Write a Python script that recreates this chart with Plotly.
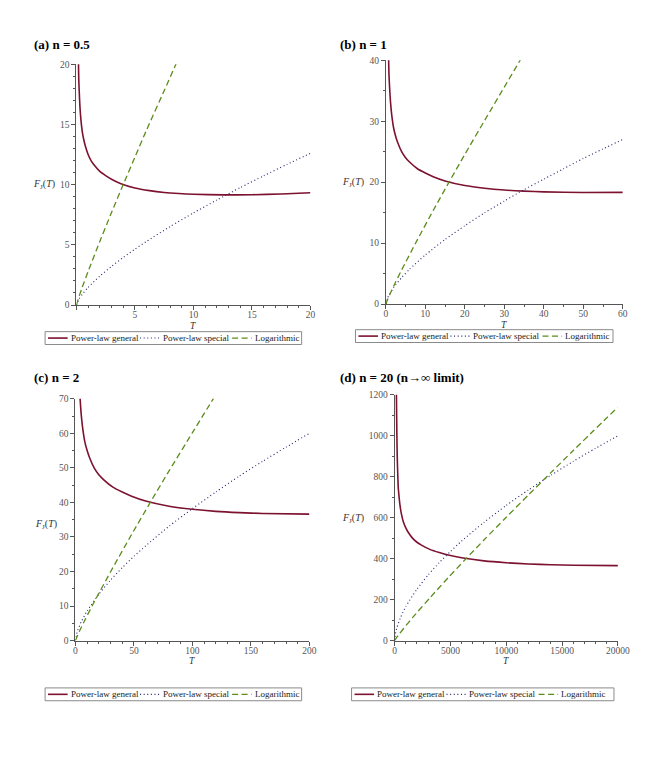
import plotly.graph_objects as go

W, H = 672, 762

# ---------------- data ----------------
# (a) n = 0.5
Ta_gen = [0.1, 0.125, 0.15, 0.175, 0.2, 0.25, 0.3, 0.375, 0.5, 0.625, 0.75, 1, 1.25, 1.5, 2, 2.5, 3, 3.75, 5, 6.25, 7.5, 8.75, 10, 12.5, 15, 17.5, 20]
Fa_gen = [30, 25, 22, 20.25, 18.75, 17.5, 16.5, 15.5, 14.4, 13.75, 13.25, 12.5, 12.0, 11.65, 11.1, 10.75, 10.45, 10.1, 9.72, 9.5, 9.35, 9.26, 9.2, 9.15, 9.16, 9.22, 9.33]
Ta_spec = [0, 0.25, 0.5, 1, 2, 3, 4, 5, 6, 8, 10, 12, 14, 16, 18, 20]
Fa_spec = [0, 0.54, 0.88, 1.46, 2.40, 3.21, 3.95, 4.64, 5.29, 6.51, 7.65, 8.72, 9.75, 10.73, 11.68, 12.6]
Ta_log = [0, 0.125, 0.25, 0.5, 1, 2, 3, 4, 5, 6, 7.5, 8.5, 9]
Fa_log = [0, 0.41, 0.78, 1.48, 2.79, 5.28, 7.68, 10.0, 12.28, 14.55, 17.8, 20.0, 21.1]

# (b) n = 1
Tb_gen = [0.4, 0.5, 0.6, 0.7, 0.8, 1, 1.2, 1.5, 2, 2.5, 3, 4, 5, 6, 8, 10, 12, 15, 20, 25, 30, 35, 40, 50, 60]
Fb_gen = [60, 50, 44, 40.5, 37.5, 35, 33, 31, 28.8, 27.5, 26.5, 25, 24, 23.3, 22.2, 21.5, 20.9, 20.2, 19.45, 19.0, 18.7, 18.52, 18.4, 18.3, 18.32]
Tb_spec = [0, 0.5, 1, 2, 4, 6, 10, 15, 20, 25, 30, 35, 40, 45, 50, 55, 60]
Fb_spec = [0, 1.07, 1.70, 2.72, 4.34, 5.71, 8.06, 10.59, 12.85, 14.96, 16.9, 18.77, 20.5, 22.2, 23.9, 25.46, 27]
Tb_log = [0, 0.5, 1, 2, 4, 8, 12, 16, 20, 25, 30, 34, 36]
Fb_log = [0, 0.82, 1.56, 2.95, 5.58, 10.56, 15.35, 20.0, 24.55, 30.1, 35.6, 40.0, 42.2]

# (c) n = 2
Tc_gen = [1.6, 2, 2.4, 2.8, 3.2, 4, 4.8, 6, 8, 10, 12, 16, 20, 24, 32, 40, 48, 60, 80, 100, 120, 140, 160, 200]
Fc_gen = [120, 100, 88, 81, 75, 70, 66, 62, 57.6, 55, 53, 50, 48, 46.6, 44.4, 43, 41.8, 40.4, 38.9, 38.0, 37.4, 37.04, 36.8, 36.6]
Tc_spec = [0, 1, 2, 5, 10, 20, 30, 40, 50, 60, 80, 100, 120, 140, 160, 180, 200]
Fc_spec = [0, 1.92, 3.01, 5.45, 8.56, 13.4, 17.5, 21.1, 24.4, 27.4, 33.1, 38.2, 43.0, 47.6, 51.9, 56.0, 60]
Tc_log = [0, 2, 4, 8, 16, 32, 48, 64, 80, 100, 120]
Fc_log = [0, 1.65, 3.12, 5.9, 11.16, 21.1, 30.7, 40.0, 49.1, 60.2, 71.2]

# (d) n = 20
Td_gen = [100, 120, 160, 200, 240, 280, 320, 400, 480, 600, 800, 1000, 1200, 1600, 2000, 2400, 3200, 4000, 4800, 6000, 8000, 10000, 12000, 14000, 16000, 20000]
Fd_gen = [1900, 1500, 1200, 1000, 880, 810, 750, 700, 660, 620, 576, 550, 530, 500, 480, 466, 444, 430, 418, 404, 389, 380, 374, 370.4, 368, 366]
Td_spec = [0, 50, 100, 200, 500, 1000, 2000, 3000, 4000, 5000, 6000, 8000, 10000, 12000, 14000, 16000, 18000, 20000]
Fd_spec = [0, 27.5, 41.6, 63.1, 109, 166, 251, 320, 381, 435, 486, 577, 660, 736, 807, 875, 939, 1000]
Td_log = [0, 200, 400, 800, 1600, 3200, 4800, 6400, 8000, 10000, 12000, 14000, 16000, 20000]
Fd_log = [0, 16.5, 31.2, 59, 111.6, 211, 307, 400, 491, 602, 712, 820, 928, 1140]

panel_titles = ["(a) n = 0.5", "(b) n = 1", "(c) n = 2", "(d) n = 20 (n\u2192\u221e limit)"]
series_names = ["Power-law general", "Power-law special", "Logarithmic"]

# ---------------- style ----------------
C_GEN = "#7d1230"
C_SPEC = "#24246e"
C_LOG = "#5b8c1c"
AX_COL = "#555555"
SERIF = "Liberation Serif, Times New Roman, serif"

def px_x(p):
    return p / W

def px_y(p):
    return 1 - p / H

panels = [
    dict(data=[(Ta_gen, Fa_gen), (Ta_spec, Fa_spec), (Ta_log, Fa_log)],
         xd=(76, 315), yd=(60, 304), xr=[0, 20], yr=[0, 20],
         xtv=[0, 5, 10, 15, 20], xtt=["", "5", "10", "15", "20"], xmin=1,
         ytv=[0, 5, 10, 15, 20], ymin=1,
         title=(31, 40), ylab=(43, 182), xlab=(195, 325), leg=(44, 331, 262)),
    dict(data=[(Tb_gen, Fb_gen), (Tb_spec, Fb_spec), (Tb_log, Fb_log)],
         xd=(392, 634), yd=(56, 303), xr=[0, 60], yr=[0, 40],
         xtv=[0, 10, 20, 30, 40, 50, 60], xtt=None, xmin=5,
         ytv=[0, 10, 20, 30, 40], ymin=5,
         title=(343, 40), ylab=(358, 180), xlab=(513, 324), leg=(361, 329, 263)),
    dict(data=[(Tc_gen, Fc_gen), (Tc_spec, Fc_spec), (Tc_log, Fc_log)],
         xd=(75, 314), yd=(399, 644), xr=[0, 200], yr=[0, 70],
         xtv=[0, 50, 100, 150, 200], xtt=None, xmin=10,
         ytv=[0, 10, 20, 30, 40, 50, 60, 70], ymin=5,
         title=(31, 377), ylab=(45, 526), xlab=(194, 665), leg=(44, 692, 262)),
    dict(data=[(Td_gen, Fd_gen), (Td_spec, Fd_spec), (Td_log, Fd_log)],
         xd=(401, 629), yd=(395, 644), xr=[0, 20000], yr=[0, 1200],
         xtv=[0, 5000, 10000, 15000, 20000], xtt=None, xmin=1000,
         ytv=[0, 200, 400, 600, 800, 1000, 1200], ymin=100,
         title=(343, 377), ylab=(358, 520), xlab=(515, 665), leg=(357, 692, 268)),
]

line_styles = [
    dict(color=C_GEN, width=1.6, dash="solid"),
    dict(color=C_SPEC, width=1.1, dash="1px,2.6px"),
    dict(color=C_LOG, width=1.3, dash="6px,3.5px"),
]

# legend layout offsets (px, relative to legend box left edge)
LEG_SAMPLES = [(3, 23), (97, 117), (191, 211)]
LEG_TEXT_X = [24, 118, 212]
LEG_BOX_H = 13

fig = go.Figure()
annotations = []
shapes = []
layout = dict(
    width=W, height=H, margin=dict(l=0, r=0, t=0, b=0),
    paper_bgcolor="white", plot_bgcolor="white",
    font=dict(family=SERIF, size=10, color="#333"),
    showlegend=False,
)

for i, p in enumerate(panels):
    k = "" if i == 0 else str(i + 1)
    xa, ya = "x" + k, "y" + k
    for j, (xs, ys) in enumerate(p["data"]):
        fig.add_trace(go.Scatter(
            x=xs, y=ys, mode="lines", name=series_names[j],
            line=dict(shape="spline", smoothing=0.6, **line_styles[j]),
            xaxis=xa, yaxis=ya, hoverinfo="skip",
        ))
    axis_common = dict(
        showline=True, linecolor=AX_COL, linewidth=1, mirror=False,
        showgrid=False, zeroline=False, ticks="outside", ticklen=4,
        tickcolor=AX_COL, tickwidth=1,
        tickfont=dict(family=SERIF, size=9.5, color="#555"),
        fixedrange=True, tickformat="d",
    )
    xax = dict(axis_common, domain=[px_x(p["xd"][0]), px_x(p["xd"][1])],
               range=p["xr"], anchor=ya, tickmode="array", tickvals=p["xtv"],
               ticklabelstandoff=-3,
               minor=dict(tickmode="linear", tick0=0, dtick=p["xmin"], ticks="outside",
                          ticklen=2, tickcolor=AX_COL))
    if p["xtt"] is not None:
        xax["ticktext"] = p["xtt"]
    yax = dict(axis_common, domain=[px_y(p["yd"][1]), px_y(p["yd"][0])],
               range=p["yr"], anchor=xa, tickmode="array", tickvals=p["ytv"],
               minor=dict(tickmode="linear", tick0=0, dtick=p["ymin"], ticks="outside",
                          ticklen=2, tickcolor=AX_COL))
    layout["xaxis" + k] = xax
    layout["yaxis" + k] = yax

    # titles and axis labels
    annotations.append(dict(
        text="<b>%s</b>" % panel_titles[i], x=px_x(p["title"][0]), y=px_y(p["title"][1]),
        xref="paper", yref="paper", xanchor="left", yanchor="middle", showarrow=False,
        font=dict(family=SERIF, size=13, color="black")))
    annotations.append(dict(
        text="<i>F</i><sub>J</sub>(<i>T</i>)", x=px_x(p["ylab"][0]), y=px_y(p["ylab"][1]),
        xref="paper", yref="paper", xanchor="center", yanchor="middle", showarrow=False,
        font=dict(family=SERIF, size=10, color="#333")))
    annotations.append(dict(
        text="<i>T</i>", x=px_x(p["xlab"][0]), y=px_y(p["xlab"][1]),
        xref="paper", yref="paper", xanchor="center", yanchor="middle", showarrow=False,
        font=dict(family=SERIF, size=9.5, color="#333")))

    # boxed key below each panel
    L, T0, LW = p["leg"]
    shapes.append(dict(type="rect", xref="paper", yref="paper",
                       x0=px_x(L), x1=px_x(L + LW), y0=px_y(T0 + LEG_BOX_H), y1=px_y(T0),
                       line=dict(color="#8a8a8a", width=1), fillcolor="white"))
    ymid = px_y(T0 + LEG_BOX_H / 2)
    for j in range(3):
        a, b = LEG_SAMPLES[j]
        st = line_styles[j]
        shapes.append(dict(type="line", xref="paper", yref="paper",
                           x0=px_x(L + a), x1=px_x(L + b), y0=ymid, y1=ymid,
                           line=dict(color=st["color"], width=st["width"], dash=st["dash"])))
        annotations.append(dict(
            text=series_names[j], x=px_x(L + LEG_TEXT_X[j]), y=ymid,
            xref="paper", yref="paper", xanchor="left", yanchor="middle", showarrow=False,
            font=dict(family=SERIF, size=9, color="#222")))

layout["annotations"] = annotations
layout["shapes"] = shapes
fig.update_layout(**layout)
fig.write_html("out.html", config={"displayModeBar": False, "staticPlot": True},
               post_script="document.body.style.margin='0';")
